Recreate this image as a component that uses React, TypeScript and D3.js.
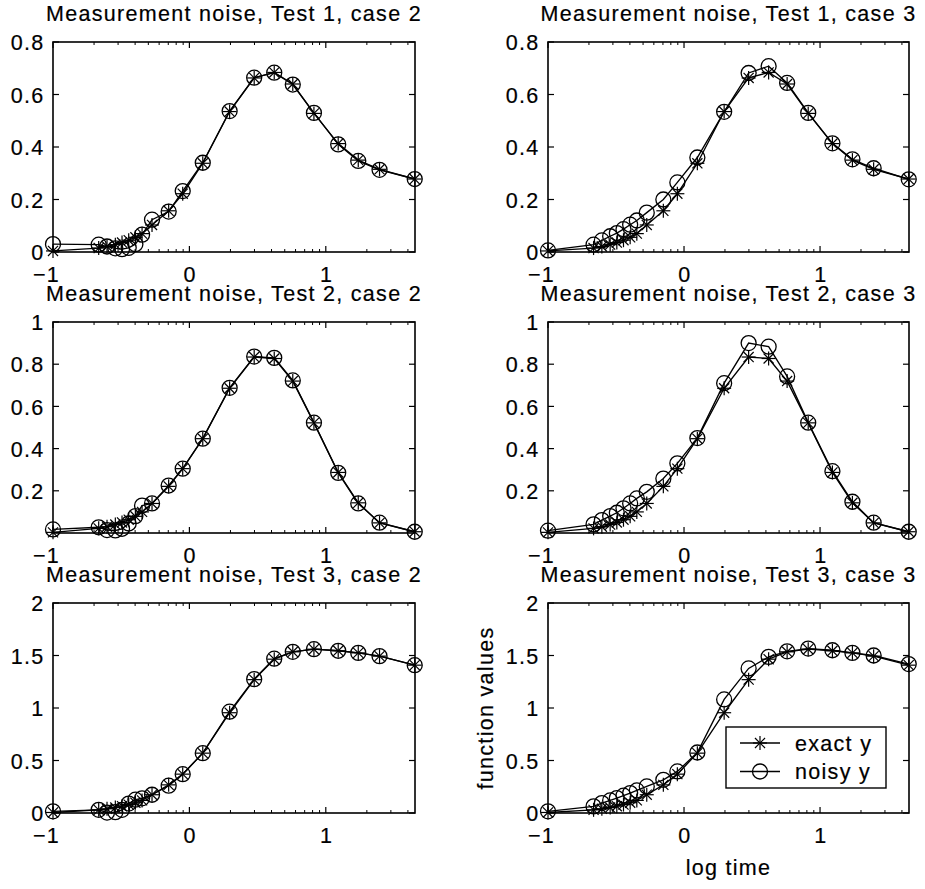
import React from "react";
import * as d3 from "d3";

// ---------- data ----------
const X_LIMITS = [-1, 1.654];
const X_TICKS = [-1, 0, 1];
const X_TICK_LABELS = ["\u22121", "0", "1"];

const LOG_TIME = [
  -1, -0.665, -0.604, -0.543, -0.494, -0.445, -0.396, -0.347, -0.274, -0.152,
  -0.049, 0.098, 0.295, 0.475, 0.622, 0.758, 0.913, 1.091, 1.238, 1.394, 1.652,
];

const TEST1_EXACT = [
  0.004, 0.015, 0.021, 0.028, 0.036, 0.045, 0.056, 0.07, 0.103, 0.157, 0.222,
  0.338, 0.535, 0.663, 0.684, 0.64, 0.528, 0.413, 0.35, 0.315, 0.278,
];
const TEST1_NOISY_CASE2 = [
  0.03, 0.028, 0.021, 0.014, 0.011, 0.016, 0.03, 0.066, 0.123, 0.154, 0.232,
  0.34, 0.537, 0.664, 0.683, 0.638, 0.53, 0.41, 0.347, 0.313, 0.278,
];
const TEST1_NOISY_CASE3 = [
  0.006, 0.028, 0.044, 0.06, 0.072, 0.087, 0.104, 0.12, 0.15, 0.2, 0.265,
  0.36, 0.534, 0.682, 0.708, 0.644, 0.53, 0.414, 0.353, 0.319, 0.277,
];

const TEST2_EXACT = [
  0.003, 0.022, 0.03, 0.04, 0.05, 0.063, 0.079, 0.1, 0.14, 0.221, 0.305,
  0.447, 0.686, 0.834, 0.827, 0.72, 0.522, 0.287, 0.143, 0.048, 0.006,
];
const TEST2_NOISY_CASE2 = [
  0.017, 0.027, 0.014, 0.012, 0.02, 0.045, 0.08, 0.13, 0.14, 0.225, 0.305,
  0.447, 0.688, 0.836, 0.83, 0.723, 0.523, 0.285, 0.14, 0.049, 0.006,
];
const TEST2_NOISY_CASE3 = [
  0.011, 0.041, 0.061, 0.08, 0.096, 0.117, 0.14, 0.164, 0.195, 0.258, 0.33,
  0.45, 0.71, 0.9, 0.883, 0.742, 0.523, 0.293, 0.148, 0.049, 0.006,
];

const TEST3_EXACT = [
  0.005, 0.03, 0.04, 0.052, 0.065, 0.08, 0.098, 0.12, 0.174, 0.268, 0.37,
  0.57, 0.955, 1.27, 1.465, 1.535, 1.56, 1.545, 1.525, 1.494, 1.408,
];
const TEST3_NOISY_CASE2 = [
  0.016, 0.03, 0.004, 0.008, 0.03, 0.09, 0.127, 0.14, 0.174, 0.26, 0.37,
  0.57, 0.965, 1.275, 1.47, 1.535, 1.56, 1.545, 1.525, 1.494, 1.408,
];
const TEST3_NOISY_CASE3 = [
  0.016, 0.063, 0.095, 0.12, 0.142, 0.165, 0.19, 0.215, 0.253, 0.316, 0.396,
  0.576, 1.082, 1.377, 1.487, 1.54, 1.566, 1.55, 1.525, 1.5, 1.418,
];

const Y_DOMAIN_TEST1 = [0, 0.8];
const Y_TICKS_TEST1 = [0, 0.2, 0.4, 0.6, 0.8];
const Y_DOMAIN_TEST2 = [0, 1];
const Y_TICKS_TEST2 = [0.2, 0.4, 0.6, 0.8, 1];
const Y_DOMAIN_TEST3 = [0, 2];
const Y_TICKS_TEST3 = [0, 0.5, 1, 1.5, 2];

const TITLES = [
  "Measurement noise, Test 1, case 2",
  "Measurement noise, Test 1, case 3",
  "Measurement noise, Test 2, case 2",
  "Measurement noise, Test 2, case 3",
  "Measurement noise, Test 3, case 2",
  "Measurement noise, Test 3, case 3",
];
const LEGEND_LABELS = ["exact y", "noisy y"];
const X_LABEL = "log time";
const Y_LABEL = "function values";

// ---------- layout ----------
const W = 925;
const H = 889;
const COLS = [
  { x0: 53, x1: 415 },
  { x0: 548, x1: 909 },
];
const ROWS = [
  { y0: 42, y1: 252 },
  { y0: 322, y1: 533 },
  { y0: 603, y1: 813 },
];
const FONT = "'Liberation Sans', Arial, Helvetica, sans-serif";
const FS = 21.5;
const LS = "1.3px";
const LW = 1.35;

const textStyle: React.CSSProperties = {
  fontFamily: FONT,
  fontSize: FS,
  letterSpacing: LS,
  stroke: "#000",
  strokeWidth: 0.2,
};

function Asterisk({ cx, cy, s = 7 }: { cx: number; cy: number; s?: number }) {
  const d = s * 0.72;
  return (
    <g stroke="#000" strokeWidth={1.2}>
      <line x1={cx - s} y1={cy} x2={cx + s} y2={cy} />
      <line x1={cx} y1={cy - s} x2={cx} y2={cy + s} />
      <line x1={cx - d} y1={cy - d} x2={cx + d} y2={cy + d} />
      <line x1={cx - d} y1={cy + d} x2={cx + d} y2={cy - d} />
    </g>
  );
}

function fmt(v: number) {
  return String(v);
}

type PanelProps = {
  col: number;
  row: number;
  title: string;
  yDomain: number[];
  yTicks: number[];
  exact: number[];
  noisy: number[];
};

function Panel({ col, row, title, yDomain, yTicks, exact, noisy }: PanelProps) {
  const { x0, x1 } = COLS[col];
  const { y0, y1 } = ROWS[row];
  const xs = d3.scaleLinear().domain(X_LIMITS).range([x0, x1]);
  const ys = d3.scaleLinear().domain(yDomain).range([y1, y0]);
  const line = d3
    .line<number>()
    .x((_, i) => xs(LOG_TIME[i]))
    .y((v) => ys(v));

  const minor: number[] = [];
  for (const dec of X_TICKS) {
    for (let k = 2; k <= 9; k++) {
      const v = dec + Math.log10(k);
      if (v < X_LIMITS[1]) minor.push(v);
    }
  }
  const MAJ = 6;
  const MIN = 3;

  return (
    <g>
      <text x={(x0 + x1) / 2} y={y0 - 21} textAnchor="middle" style={textStyle}>
        {title}
      </text>
      <path d={line(exact) || ""} fill="none" stroke="#000" strokeWidth={LW} />
      {exact.map((v, i) => (
        <Asterisk key={"a" + i} cx={xs(LOG_TIME[i])} cy={ys(v)} />
      ))}
      <path d={line(noisy) || ""} fill="none" stroke="#000" strokeWidth={LW} />
      {noisy.map((v, i) => (
        <circle
          key={"c" + i}
          cx={xs(LOG_TIME[i])}
          cy={ys(v)}
          r={7.5}
          fill="none"
          stroke="#000"
          strokeWidth={1.3}
        />
      ))}
      <rect
        x={x0}
        y={y0}
        width={x1 - x0}
        height={y1 - y0}
        fill="none"
        stroke="#000"
        strokeWidth={1.6}
      />
      {yTicks.map((t) => (
        <g key={"yt" + t}>
          <line x1={x0} x2={x0 + MAJ} y1={ys(t)} y2={ys(t)} stroke="#000" strokeWidth={1.2} />
          <line x1={x1} x2={x1 - MAJ} y1={ys(t)} y2={ys(t)} stroke="#000" strokeWidth={1.2} />
          <text x={x0 - 8.5} y={ys(t)} dy="0.38em" textAnchor="end" style={textStyle}>
            {fmt(t)}
          </text>
        </g>
      ))}
      {X_TICKS.map((t, i) => (
        <g key={"xt" + t}>
          <line x1={xs(t)} x2={xs(t)} y1={y1} y2={y1 - MAJ} stroke="#000" strokeWidth={1.2} />
          <line x1={xs(t)} x2={xs(t)} y1={y0} y2={y0 + MAJ} stroke="#000" strokeWidth={1.2} />
          <text
            x={xs(t) + (t < 0 ? -6.5 : 0.75)}
            y={y1 + 30}
            textAnchor="middle"
            style={textStyle}
          >
            {X_TICK_LABELS[i]}
          </text>
        </g>
      ))}
      {minor.map((t) => (
        <g key={"mt" + t}>
          <line x1={xs(t)} x2={xs(t)} y1={y1} y2={y1 - MIN} stroke="#000" />
          <line x1={xs(t)} x2={xs(t)} y1={y0} y2={y0 + MIN} stroke="#000" />
        </g>
      ))}
    </g>
  );
}

function Legend() {
  const bx0 = 726;
  const by0 = 727;
  const bw = 160;
  const bh = 61;
  const rowsY = [743, 771.5];
  return (
    <g>
      <rect x={bx0} y={by0} width={bw} height={bh} fill="#fff" stroke="#000" strokeWidth={1.4} />
      <line x1={740} x2={780} y1={rowsY[0]} y2={rowsY[0]} stroke="#000" strokeWidth={LW} />
      <Asterisk cx={760} cy={rowsY[0]} />
      <text x={795} y={rowsY[0]} dy="0.36em" style={textStyle}>
        {LEGEND_LABELS[0]}
      </text>
      <line x1={740} x2={780} y1={rowsY[1]} y2={rowsY[1]} stroke="#000" strokeWidth={LW} />
      <circle cx={760} cy={rowsY[1]} r={7.5} fill="none" stroke="#000" strokeWidth={1.3} />
      <text x={795} y={rowsY[1]} dy="0.36em" style={textStyle}>
        {LEGEND_LABELS[1]}
      </text>
    </g>
  );
}

export default function App() {
  const panels: PanelProps[] = [
    { col: 0, row: 0, title: TITLES[0], yDomain: Y_DOMAIN_TEST1, yTicks: Y_TICKS_TEST1, exact: TEST1_EXACT, noisy: TEST1_NOISY_CASE2 },
    { col: 1, row: 0, title: TITLES[1], yDomain: Y_DOMAIN_TEST1, yTicks: Y_TICKS_TEST1, exact: TEST1_EXACT, noisy: TEST1_NOISY_CASE3 },
    { col: 0, row: 1, title: TITLES[2], yDomain: Y_DOMAIN_TEST2, yTicks: Y_TICKS_TEST2, exact: TEST2_EXACT, noisy: TEST2_NOISY_CASE2 },
    { col: 1, row: 1, title: TITLES[3], yDomain: Y_DOMAIN_TEST2, yTicks: Y_TICKS_TEST2, exact: TEST2_EXACT, noisy: TEST2_NOISY_CASE3 },
    { col: 0, row: 2, title: TITLES[4], yDomain: Y_DOMAIN_TEST3, yTicks: Y_TICKS_TEST3, exact: TEST3_EXACT, noisy: TEST3_NOISY_CASE2 },
    { col: 1, row: 2, title: TITLES[5], yDomain: Y_DOMAIN_TEST3, yTicks: Y_TICKS_TEST3, exact: TEST3_EXACT, noisy: TEST3_NOISY_CASE3 },
  ];
  const lastCol = COLS[1];
  const lastRow = ROWS[2];
  return (
    <svg
      width={W}
      height={H}
      viewBox={`0 0 ${W} ${H}`}
      style={{ position: "absolute", left: 0, top: 0, background: "#fff" }}
    >
      <rect x={0} y={0} width={W} height={H} fill="#fff" />
      {panels.map((p, i) => (
        <Panel key={i} {...p} />
      ))}
      <Legend />
      <text x={(lastCol.x0 + lastCol.x1) / 2} y={875} textAnchor="middle" style={textStyle}>
        {X_LABEL}
      </text>
      <text
        transform={`translate(493, ${(lastRow.y0 + lastRow.y1) / 2}) rotate(-90)`}
        textAnchor="middle"
        style={textStyle}
      >
        {Y_LABEL}
      </text>
    </svg>
  );
}
